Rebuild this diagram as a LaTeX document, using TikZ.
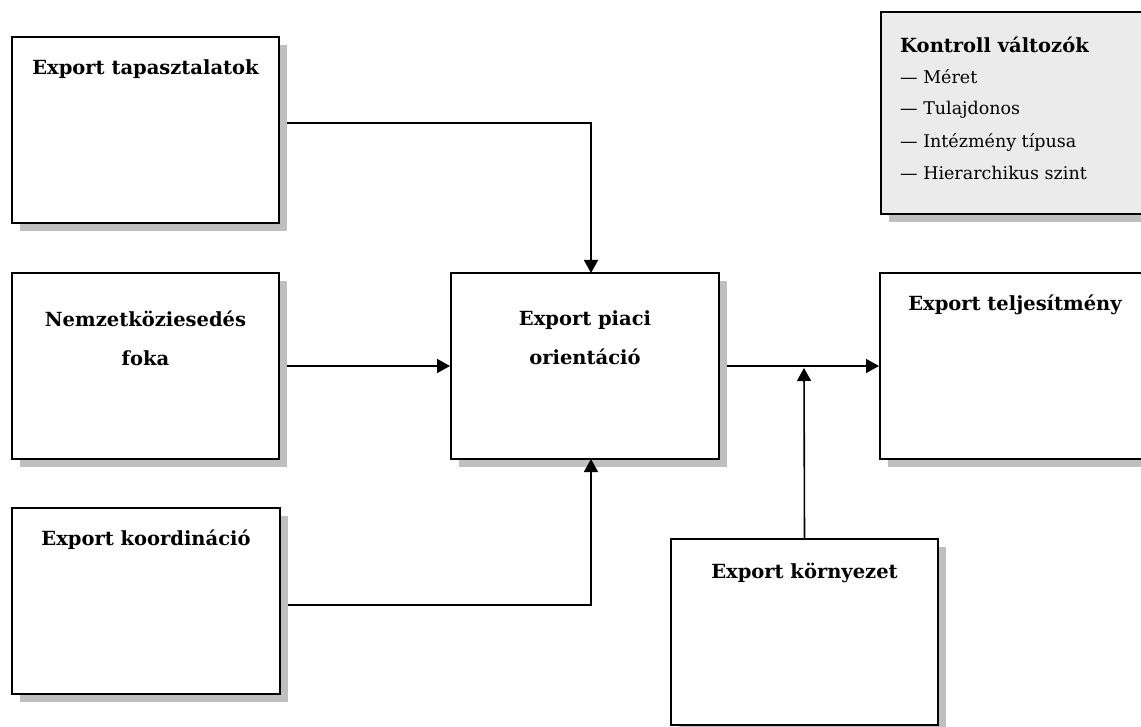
\documentclass[tikz,border=0pt]{standalone}
\usepackage{fontspec}
\setmainfont{DejaVu Serif}
\usetikzlibrary{arrows.meta,shadows}
\begin{document}
\begin{tikzpicture}[x=1pt,y=-1pt,
  box/.style={draw=black,line width=2pt,fill=white,rectangle,inner sep=0pt,
    drop shadow={shadow xshift=8pt,shadow yshift=-8pt,fill=black!25,opacity=1}},
  ttl/.style={font=\fontsize{19.5}{39}\selectfont\bfseries,align=center,inner sep=0pt},
  itm/.style={font=\fontsize{17.5}{32}\selectfont,anchor=west,inner sep=0pt},
  conn/.style={line width=1.6pt},
  arr/.style={conn,-{Triangle[length=13pt,width=14pt]}}]
\useasboundingbox (0,0) rectangle (1141,727);
% boxes
\node[box,minimum width=267pt,minimum height=186pt] (A) at (145.5,130) {};
\node[box,minimum width=267pt,minimum height=186pt] (B) at (145.5,366) {};
\node[box,minimum width=268pt,minimum height=186pt] (C) at (146,601) {};
\node[box,minimum width=268pt,minimum height=186pt] (D) at (585,366) {};
\node[box,minimum width=270pt,minimum height=186pt] (E) at (1015,366) {};
\node[box,minimum width=267pt,minimum height=186pt] (F) at (804.5,632) {};
\node[box,fill=black!8,minimum width=269pt,minimum height=202pt] (G) at (1015.5,113) {};
% texts
\node[ttl] (tA) at (145.5,69) {Export tapasztalatok};
\node[ttl] (tB) at (145.5,338) {Nemzetköziesedés\\foka};
\node[ttl] (tC) at (146,540) {Export koordináció};
\node[ttl] (tD) at (585,338) {Export piaci\\orientáció};
\node[ttl] (tE) at (1015,305) {Export teljesítmény};
\node[ttl] (tF) at (804.5,573) {Export környezet};
\node[ttl,anchor=west] (tG) at (900,45) {Kontroll változók};
\node[itm] (g1) at (900,77) {— Méret};
\node[itm] (g2) at (900,110) {— Tulajdonos};
\node[itm] (g3) at (900,142) {— Intézmény típusa};
\node[itm] (g4) at (900,173) {— Hierarchikus szint};
% connectors
\coordinate (Dtop) at (591,273);
\coordinate (Dbot) at (591,459);
\coordinate (Aout) at (287,123);
\coordinate (Bout) at (287,366);
\coordinate (Cout) at (288,605);
\coordinate (Dout) at (727,366);
\coordinate (Jn) at (804,366);
\draw[arr] (Aout) -| (Dtop);
\draw[arr] (Cout) -| (Dbot);
\draw[arr] (Bout) -- (D.west);
\draw[arr] (Dout) -- (E.west);
\draw[arr] (F.north) -- ([yshift=-2pt]Jn);
\end{tikzpicture}
\end{document}
